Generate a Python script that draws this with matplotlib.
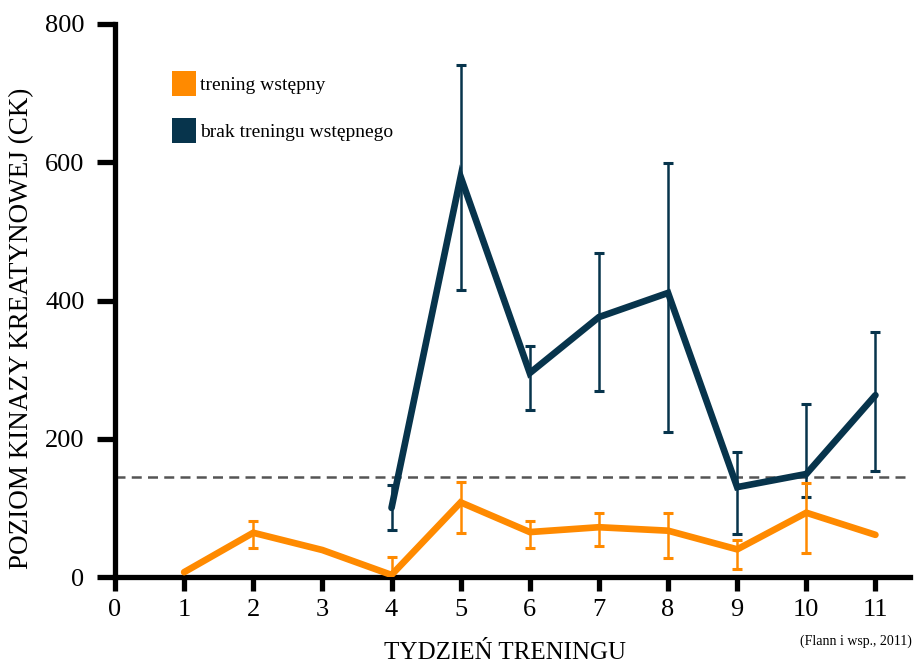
import matplotlib
matplotlib.use("Agg")
import matplotlib.pyplot as plt
from matplotlib.patches import Patch

plt.rcParams['font.family'] = ['Liberation Serif', 'DejaVu Serif']

weeks_pre = [1, 2, 3, 4, 5, 6, 7, 8, 9, 10, 11]
ck_pre = [7, 64, 39, 3, 108, 65, 72, 67, 40, 93, 61]
err_pre_lo = [0, 22, 0, 0, 44, 23, 27, 40, 28, 58, 0]
err_pre_hi = [0, 17, 0, 26, 29, 16, 21, 26, 14, 43, 0]

weeks_nopre = [4, 5, 6, 7, 8, 9, 10, 11]
ck_nopre = [100, 579, 295, 376, 411, 130, 149, 263]
err_nopre_lo = [32, 164, 53, 107, 201, 68, 33, 110]
err_nopre_hi = [33, 162, 39, 93, 188, 51, 101, 92]

threshold = 145
xticks = list(range(0, 12))
yticks = [0, 200, 400, 600, 800]
label_pre = "trening wstępny"
label_nopre = "brak treningu wstępnego"

c_pre = "#FF8A00"
c_nopre = "#07344C"

fig = plt.figure(figsize=(9.14, 6.63), dpi=100)
ax = fig.add_axes([115/914, 1-577/663, (910-115)/914, (577-24)/663])

ax.axhline(threshold, color="#555555", lw=1.8, ls=(0, (4, 2.5)), zorder=1)


def draw(x, y, lo, hi, color, z):
    ax.plot(x, y, color=color, lw=4.8, solid_joinstyle='miter', solid_capstyle='round', zorder=z)
    for xi, yi, l, h in zip(x, y, lo, hi):
        if l or h:
            ax.vlines(xi, yi - l, yi + h, color=color, lw=1.8, zorder=z)
        if h:
            ax.plot([xi], [yi + h], marker='_', ms=7.5, mew=2.2, color=color, zorder=z)
        if l:
            ax.plot([xi], [yi - l], marker='_', ms=7.5, mew=2.2, color=color, zorder=z)


draw(weeks_nopre, ck_nopre, err_nopre_lo, err_nopre_hi, c_nopre, 3)
draw(weeks_pre, ck_pre, err_pre_lo, err_pre_hi, c_pre, 4)

ax.set_xlim(0, 11.5)
ax.set_ylim(0, 800)
ax.set_xticks(xticks)
ax.set_yticks(yticks)
for s in ['top', 'right']:
    ax.spines[s].set_visible(False)
for s in ['left', 'bottom']:
    ax.spines[s].set_linewidth(3.8)
    ax.spines[s].set_capstyle('projecting')
ax.tick_params(axis='y', length=13, width=3.8, labelsize=19, pad=9)
ax.tick_params(axis='x', length=10, width=3.8, labelsize=19, pad=6)
ax.set_xlabel("TYDZIEŃ TRENINGU", fontsize=18)
ax.set_ylabel("POZIOM KINAZY KREATYNOWEJ (CK)", fontsize=19.5)
ax.xaxis.set_label_coords(0.49, -0.117)
ax.yaxis.set_label_coords(-0.102, 0.45)

handles = [Patch(facecolor=c_pre, edgecolor='none', label=label_pre),
           Patch(facecolor=c_nopre, edgecolor='none', label=label_nopre)]
ax.legend(handles=handles, loc='upper left', bbox_to_anchor=(0.05, 0.947), frameon=False,
          fontsize=14, handlelength=1.24, handleheight=1.59, handletextpad=0.2, labelspacing=1.14)

fig.text(912/914, 1-641/663, "(Flann i wsp., 2011)", ha='right', va='center', fontsize=10)

fig.savefig("out.png", dpi=100)
